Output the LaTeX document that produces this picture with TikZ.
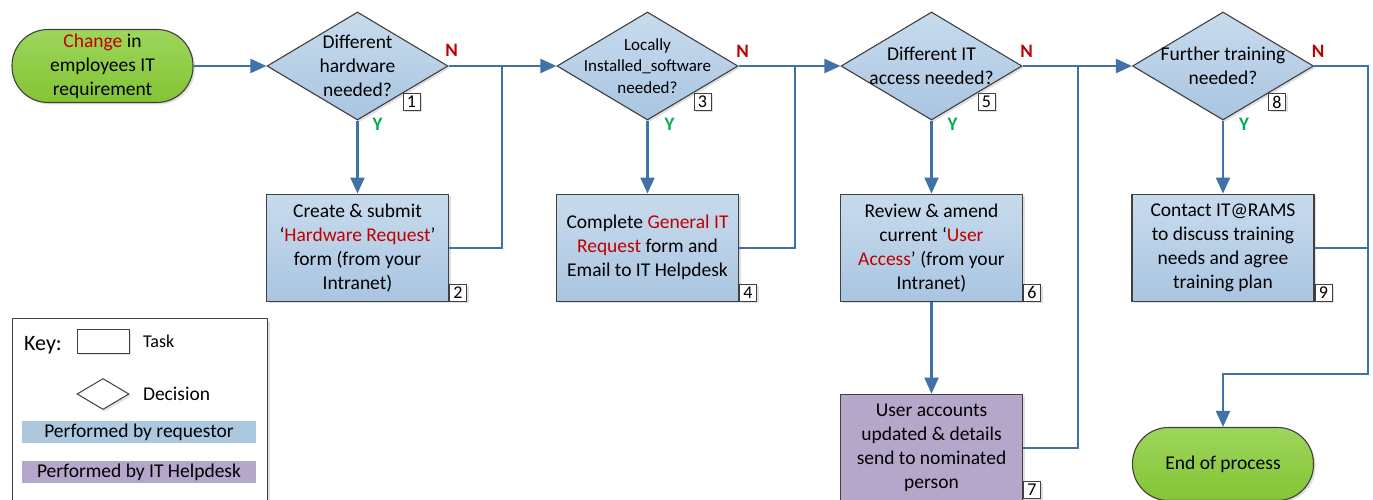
\documentclass[tikz,border=0pt]{standalone}
\usepackage{xcolor}
\usepackage{fontspec}
\setmainfont{Carlito}
\usetikzlibrary{arrows.meta,positioning,shapes.geometric,shadows}
\definecolor{flowblue}{HTML}{3F72A9}
\definecolor{reqtop}{HTML}{C8DBED}
\definecolor{reqbot}{HTML}{A9C5E1}
\definecolor{reqkey}{HTML}{ABC8DF}
\definecolor{itdesk}{HTML}{B4A7CA}
\definecolor{termtop}{HTML}{9CD65C}
\definecolor{termbot}{HTML}{84C434}
\definecolor{hilite}{HTML}{C00000}
\definecolor{yesgreen}{HTML}{00B050}
\definecolor{edge}{HTML}{404040}

\begin{document}
\begin{tikzpicture}[
  x=1pt, y=-1pt,
  >={Triangle[length=16pt,width=14pt]},
  node distance=73pt,
  every node/.style={font=\fontsize{19.5}{24}\selectfont},
  soft/.style={
    drop shadow={shadow xshift=2pt, shadow yshift=-2pt, opacity=0.25}
  },
  terminal/.style={
    draw=edge,
    line width=1.1pt,
    rounded corners=36pt,
    top color=termtop,
    bottom color=termbot,
    minimum width=181pt,
    minimum height=73pt,
    align=center,
    soft
  },
  decision/.style={
    diamond,
    draw=edge,
    line width=1.1pt,
    top color=reqtop,
    bottom color=reqbot,
    minimum width=181pt,
    minimum height=108pt,
    inner sep=0pt,
    soft
  },
  dtext/.style={align=center, inner sep=0pt},
  task/.style={
    draw=edge,
    line width=1.1pt,
    top color=reqtop,
    bottom color=reqbot,
    minimum width=182pt,
    minimum height=107pt,
    align=center,
    inner sep=2pt,
    soft
  },
  helpdesk/.style={task, top color=itdesk, bottom color=itdesk},
  stepno/.style={
    draw=edge,
    fill=white,
    line width=0.9pt,
    minimum width=17pt,
    minimum height=17pt,
    inner sep=0pt,
    font=\fontsize{18}{18}\selectfont,
    soft
  },
  yes/.style={text=yesgreen, inner sep=0pt, font=\bfseries\fontsize{19}{19}\selectfont},
  no/.style={text=hilite, inner sep=0pt, font=\bfseries\fontsize{19}{19}\selectfont},
  link/.style={draw=flowblue, line width=2.2pt},
  flow/.style={->, link}
]
\useasboundingbox (0,0) rectangle (1373,500);

\node[terminal] (start) at (102.5,66)
{\textcolor{hilite}{Change} in\\employees IT\\requirement};

\node[decision] (dhw) at (357.5,66) {};
\node[dtext] (dhwt) at (dhw) {Different\\hardware\\needed?};
\node[decision] (dsw) at (647.5,66) {};
\node[dtext, font=\fontsize{17}{21.5}\selectfont] (dswt) at (dsw)
{Locally\\Installed\_software\\needed?};
\node[decision] (dacc) at (931.5,66) {};
\node[dtext] (dacct) at (dacc) {Different IT\\access needed?};
\node[decision] (dtr) at (1223,66) {};
\node[dtext] (dtrt) at (dtr) {Further training\\needed?};

\node[task, below=of dhw] (thw)
{Create \& submit\\‘\textcolor{hilite}{Hardware Request}’\\form (from your\\Intranet)};
\node[task, below=of dsw] (tsw)
{Complete \textcolor{hilite}{General IT}\\\textcolor{hilite}{Request} form and\\Email to IT Helpdesk};
\node[task, below=of dacc] (tacc)
{Review \& amend\\current ‘\textcolor{hilite}{User}\\\textcolor{hilite}{Access}’ (from your\\Intranet)};
\node[helpdesk, below=92pt of tacc] (tupd)
{User accounts\\updated \& details\\send to nominated\\person};
\node[task, below=of dtr] (ttr)
{Contact IT@RAMS\\to discuss training\\needs and agree\\training plan};
\node[terminal] (finish) at (1223,464) {End of process};

\node[stepno] (n1) at ([shift={(54,36)}]dhw.center) {1};
\node[stepno, anchor=south west] (n2) at (thw.south east) {2};
\node[stepno] (n3) at ([shift={(55,36)}]dsw.center) {3};
\node[stepno, anchor=south west] (n4) at (tsw.south east) {4};
\node[stepno] (n5) at ([shift={(55,36)}]dacc.center) {5};
\node[stepno, anchor=south west] (n6) at (tacc.south east) {6};
\node[stepno, anchor=south west] (n7) at ([yshift=3pt]tupd.south east) {7};
\node[stepno] (n8) at ([shift={(54,36)}]dtr.center) {8};
\node[stepno, anchor=south west] (n9) at (ttr.south east) {9};

\node[no] (ndhw) at ([shift={(3,-16)}]dhw.east) {N};
\node[no] (ndsw) at ([shift={(4,-15)}]dsw.east) {N};
\node[no] (ndacc) at ([shift={(4,-15)}]dacc.east) {N};
\node[no] (ndtr) at ([shift={(4,-15)}]dtr.east) {N};
\node[yes] (ydhw) at ([shift={(20,4)}]dhw.south) {Y};
\node[yes] (ydsw) at ([shift={(22,4)}]dsw.south) {Y};
\node[yes] (ydacc) at ([shift={(21,4)}]dacc.south) {Y};
\node[yes] (ydtr) at ([shift={(21,4)}]dtr.south) {Y};

\node[draw=edge, fill=white, line width=1.1pt, anchor=north west,
  minimum width=255pt, minimum height=200pt, soft] (key) at (12,318) {};
\node[font=\fontsize{22}{24}\selectfont] (keylbl) at (43,345) {Key:};
\node[draw=edge, fill=white, line width=1pt, minimum width=52pt,
  minimum height=24pt, soft] (keytask) at (103,341) {};
\node[right=10pt of keytask, font=\fontsize{18}{22}\selectfont] (keytaskt) {Task};
\node[diamond, draw=edge, fill=white, line width=1pt, minimum width=52pt,
  minimum height=31pt, inner sep=0pt, soft] (keydec) at (103,394) {};
\node[right=10pt of keydec] (keydect) {Decision};
\node[fill=reqkey, minimum width=234pt, minimum height=22pt, inner sep=0pt]
  (keyreq) at (139,432) {Performed by requestor};
\node[fill=itdesk, minimum width=234pt, minimum height=22pt, inner sep=0pt,
  below=18pt of keyreq] (keyit) {Performed by IT Helpdesk};

\coordinate (j1) at (502,66);
\coordinate (j2) at (795,66);
\coordinate (j3) at (1078,66);
\coordinate (j4) at (1368,374);

\draw[flow] (start) -- (dhw);
\draw[flow] (dhw) -- (thw);
\draw[flow] (dhw.east) -- (dsw.west);
\draw[link] (thw.east) -| (j1);
\draw[flow] (dsw) -- (tsw);
\draw[flow] (dsw.east) -- (dacc.west);
\draw[link] (tsw.east) -| (j2);
\draw[flow] (dacc) -- (tacc);
\draw[flow] (tacc) -- (tupd);
\draw[flow] (dacc.east) -- (dtr.west);
\draw[link] (tupd.east) -| (j3);
\draw[flow] (dtr) -- (ttr);
\draw[flow] (dtr.east) -| (j4) -| (finish.north);
\draw[link] (ttr.east) -- (ttr.east -| j4);
\end{tikzpicture}
\end{document}
